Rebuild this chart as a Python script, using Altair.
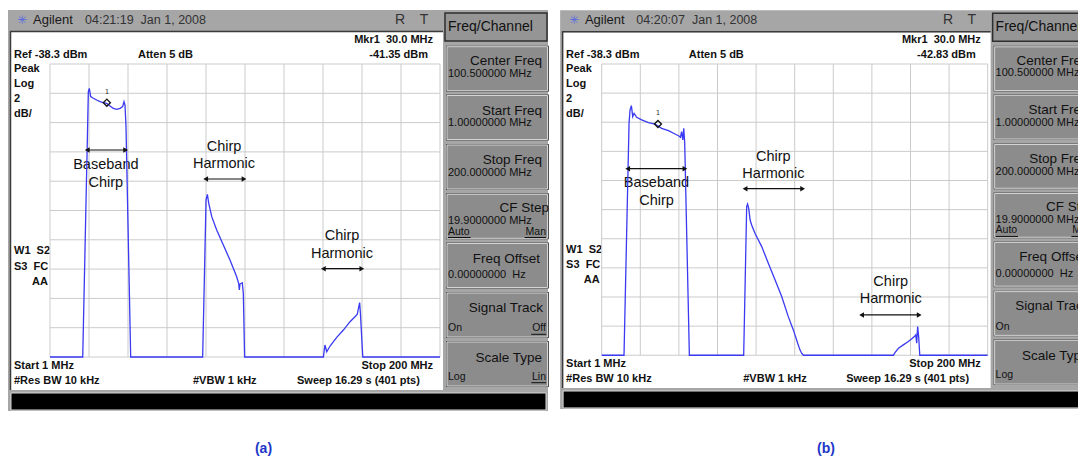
import altair as alt
import pandas as pd

FONT = "Liberation Sans"
BLUE = "#3a3af2"
W, H = 1070, 451

# ---------------- data ----------------
freq_grid = [1.0, 20.9, 40.8, 60.7, 80.6, 100.5, 120.4, 140.3, 160.2, 180.1, 200.0]
amp_grid = [-38.3, -40.3, -42.3, -44.3, -46.3, -48.3, -50.3, -52.3, -54.3, -56.3, -58.3]

trace_a_freq = [1.0, 17.7, 20.05, 20.56, 21.07, 21.75, 23.11, 24.81, 26.52, 28.22, 29.92, 31.62,
                33.32, 35.02, 36.72, 38.08, 38.76, 39.27, 39.78, 42.17,
                78.9, 80.63, 81.3, 82.0, 83.53, 86.05, 89.45, 92.85, 96.25, 97.27, 97.6, 97.95,
                99.1, 99.65, 100.3,
                140.5, 141.3, 142.2, 143.9, 147.3, 150.7, 154.1, 156.6, 157.8, 158.5, 159.0,
                159.4, 160.6, 200.0]
trace_a_dbm = [-58.3, -58.3, -43.49, -40.19, -39.96, -40.53, -40.64, -40.76, -40.87, -40.94, -40.98, -41.17,
               -41.33, -41.39, -41.33, -41.21, -40.87, -41.10, -42.58, -58.3,
               -58.3, -47.58, -47.2, -47.81, -48.72, -49.63, -50.66, -51.68, -52.82, -53.27, -53.73, -53.32,
               -53.23, -53.96, -58.3,
               -58.3, -57.48, -57.94, -57.55, -56.96, -56.46, -55.89, -55.55, -55.37, -54.91, -54.59,
               -55.33, -58.3, -58.3]

trace_b_freq = [1.0, 12.5, 15.1, 15.6, 16.3, 17.0, 17.7, 19.05, 21.6, 25.1, 28.5, 31.9, 35.4, 38.8,
                40.8, 41.6, 42.2, 42.8, 43.3, 43.8, 46.2,
                74.2, 75.75, 76.2, 76.8, 77.5, 78.3, 80.0, 83.5, 86.9, 90.4, 93.8, 97.2, 99.8,
                102.05, 103.2, 104.1, 105.0,
                151.4, 152.2, 154.0, 156.5, 159.1, 161.2, 162.2, 162.9, 163.4, 163.9, 164.4,
                165.0, 200.0]
trace_b_dbm = [-58.3, -58.3, -42.37, -41.46, -41.16, -41.92, -41.69, -41.96, -42.14, -42.33, -42.42,
               -42.72, -42.88, -43.11, -43.24, -43.33, -42.95, -43.52, -42.72, -43.75, -58.3,
               -58.3, -48.09, -47.91, -48.21, -49.0, -49.35, -49.92, -50.84, -51.98, -53.13, -54.27,
               -55.65, -56.56, -57.48, -57.93, -58.16, -58.3,
               -58.3, -58.12, -57.82, -57.59, -57.36, -57.13, -57.02, -56.9, -57.47, -56.33, -57.0,
               -58.3, -58.3]

marker_freq = 30.0
marker_a_dbm = -40.94
marker_b_dbm = -42.42

ann_labels = ["Baseband", "Chirp", "Chirp", "Harmonic", "Chirp", "Harmonic"]
ann_a_freq = [29.5, 29.5, 89.8, 89.8, 150.0, 150.0]
ann_a_dbm = [-45.19, -46.44, -43.99, -45.15, -50.04, -51.27]
ann_b_freq = [29.25, 29.25, 89.5, 89.5, 150.0, 150.0]
ann_b_dbm = [-46.49, -47.71, -44.66, -45.87, -53.27, -54.46]

arrow_a_start = [20.0, 80.45, 140.5]
arrow_a_end = [39.6, 100.0, 160.1]
arrow_a_dbm = [-44.17, -46.15, -52.27]
arrow_b_start = [14.4, 74.9, 135.0]
arrow_b_end = [43.9, 104.6, 164.7]
arrow_b_dbm = [-45.49, -46.86, -55.53]

timestamps = ["04:21:19\u00a0\u00a0Jan 1, 2008", "04:20:07\u00a0\u00a0Jan 1, 2008"]
marker_readouts = ["-41.35 dBm", "-42.83 dBm"]
panel_labels = ["(a)", "(b)"]
status_top = ["Mkr1\u00a0\u00a030.0 MHz", "Ref -38.3 dBm", "Atten 5 dB"]
status_left = ["Peak", "Log", "2", "dB/"]
status_mid = ["W1\u00a0\u00a0S2", "S3\u00a0\u00a0FC", "AA"]
status_bottom = ["Start 1 MHz", "Stop 200 MHz", "#Res BW 10 kHz", "#VBW 1 kHz", "Sweep 16.29 s (401 pts)"]
menu_title = "Freq/Channel"
softkey_titles = ["Center Freq", "Start Freq", "Stop Freq", "CF Step", "Freq Offset",
                  "Signal Track", "Scale Type"]
softkey_values = ["100.500000 MHz", "1.00000000 MHz", "200.000000 MHz", "19.9000000 MHz",
                  "0.00000000\u00a0\u00a0Hz"]
softkey_toggles = [("Auto", "Man"), ("On", "Off"), ("Log", "Lin")]

ONE = alt.Data(values=[{"k": 0}])


def build_panel(X, Y, ts, readout, tr_f, tr_d, mk_d, an_f, an_d, ar_s, ar_e, ar_d):
    L = []

    def rect(x1, y1, x2, y2, **kw):
        L.append(alt.Chart(ONE).mark_rect(**kw).encode(
            x=alt.value(X(x1)), x2=alt.value(X(x2)), y=alt.value(Y(y1)), y2=alt.value(Y(y2))))

    def hline(x1, x2, y, color, w=1.0):
        L.append(alt.Chart(ONE).mark_rule(color=color, strokeWidth=w).encode(
            x=alt.value(X(x1)), x2=alt.value(X(x2)), y=alt.value(Y(y))))

    def vline(x, y1, y2, color, w=1.0):
        L.append(alt.Chart(ONE).mark_rule(color=color, strokeWidth=w).encode(
            x=alt.value(X(x)), y=alt.value(Y(y1)), y2=alt.value(Y(y2))))

    def text(s, x, y, align="left", size=11, weight="bold", color="#111111", font=FONT):
        L.append(alt.Chart(ONE).mark_text(text=s, align=align, baseline="middle", fontSize=size,
                                          fontWeight=weight, color=color, font=font).encode(
            x=alt.value(X(x)), y=alt.value(Y(y))))

    # frame
    rect(8, 10, 548, 411, fill="#a6a6a6")
    rect(11, 32, 443, 390, fill="white")
    hline(10, 443, 31.5, "#3a3a3a", 1.5)
    vline(10.5, 31, 390, "#3a3a3a", 1.5)
    rect(11, 393, 546, 410, fill="black", stroke="#d8d8d8", strokeWidth=1)
    # title bar
    text("\u2733", 22, 20, align="center", size=12, weight="normal", color="#5a6ae0", font="DejaVu Sans")
    text("Agilent", 33, 20, size=13, weight="normal", color="#1a1a1a")
    text(ts, 85, 20, size=12.5, weight="normal", color="#333333")
    text("R", 400, 20, align="center", size=14, weight="normal", color="#333333")
    text("T", 424, 20, align="center", size=14, weight="normal", color="#333333")
    # soft keys
    rect(445, 13, 547, 41, fill="#959595", stroke="#2e2e2e", strokeWidth=1.5)
    text(menu_title, 448, 27, size=14, weight="normal")
    tops = [46.7, 95.5, 145, 194.3, 243.5, 293, 342]
    title_y = [60.5, 110.5, 159.5, 208, 258.5, 307.5, 357.5]
    title_x = [542, 542, 542, 549, 540, 543, 542]
    for t in tops:
        rect(446, t - 1, 549, t + 45, fill="#505050")
        rect(447, t, 547.5, t + 44, fill="#8c8c8c", stroke="#d4d4d4", strokeWidth=1)
    for s, tx, ty in zip(softkey_titles, title_x, title_y):
        text(s, tx, ty, align="right", size=13.5, weight="normal")
    for s, vy in zip(softkey_values, [73.5, 123, 172.5, 221, 275]):
        text(s, 448, vy, size=11, weight="normal")
    tog_y = [231.5, 328.3, 376.7]
    tog_w = [(22.6, 21.4), (13.5, 14.8), (17.5, 14.6)]
    for (lft, rgt), ty, (wl, wr) in zip(softkey_toggles, tog_y, tog_w):
        text(lft, 448, ty, size=10.5, weight="normal")
        text(rgt, 546, ty, align="right", size=10.5, weight="normal")
        hline(546 - wr, 546, ty + 6, "#111111", 1)
        if lft == "Auto":
            hline(448, 448 + wl, ty + 6, "#111111", 1)
    # status texts
    text(status_top[0], 433, 40, align="right")
    text(status_top[1], 14, 54.5)
    text(status_top[2], 138, 54.5)
    text(readout, 428, 54.5, align="right")
    for s, yy in zip(status_left, [69, 84, 99, 114]):
        text(s, 14, yy)
    text(status_mid[0], 14, 251)
    text(status_mid[1], 14, 266.7)
    text(status_mid[2], 48, 281.7, align="right")
    text(status_bottom[0], 14, 366)
    text(status_bottom[1], 433, 366, align="right")
    text(status_bottom[2], 14, 381)
    text(status_bottom[3], 193, 381)
    text(status_bottom[4], 297, 381)

    # ---- data layers through scales ----
    sx = alt.Scale(domain=[1, 200], range=[X(50), X(440)], nice=False, zero=False)
    sy = alt.Scale(domain=[-58.3, -38.3], range=[Y(357), Y(64)], nice=False, zero=False)
    gx = pd.DataFrame({"f": freq_grid})
    gy = pd.DataFrame({"d": amp_grid})
    L.append(alt.Chart(gx).mark_rule(color="#cbcbcb", strokeWidth=1).encode(
        x=alt.X("f:Q", scale=sx, axis=None), y=alt.value(Y(64)), y2=alt.value(Y(357))))
    L.append(alt.Chart(gy).mark_rule(color="#cbcbcb", strokeWidth=1).encode(
        y=alt.Y("d:Q", scale=sy, axis=None), x=alt.value(X(50)), x2=alt.value(X(440))))

    ann = pd.DataFrame({"f": an_f, "d": an_d, "label": ann_labels})
    L.append(alt.Chart(ann).mark_text(font=FONT, fontSize=14.5, color="#111111",
                                      align="center", baseline="middle").encode(
        x=alt.X("f:Q", scale=sx, axis=None), y=alt.Y("d:Q", scale=sy, axis=None), text="label:N"))

    tr = pd.DataFrame({"f": tr_f, "d": tr_d, "i": list(range(len(tr_f)))})
    L.append(alt.Chart(tr).mark_line(color=BLUE, strokeWidth=1.3).encode(
        x=alt.X("f:Q", scale=sx, axis=None), y=alt.Y("d:Q", scale=sy, axis=None), order="i:Q"))

    mk = pd.DataFrame({"f": [marker_freq], "d": [mk_d], "t": ["1"]})
    L.append(alt.Chart(mk).mark_point(shape="diamond", filled=False, color="#111111",
                                      size=50, strokeWidth=1.3, opacity=1).encode(
        x=alt.X("f:Q", scale=sx, axis=None), y=alt.Y("d:Q", scale=sy, axis=None)))
    L.append(alt.Chart(mk).mark_text(fontSize=7, dy=-11, color="#333333", font="DejaVu Sans Mono").encode(
        x=alt.X("f:Q", scale=sx, axis=None), y=alt.Y("d:Q", scale=sy, axis=None), text="t:N"))

    ar = pd.DataFrame({"s": ar_s, "e": ar_e, "d": ar_d})
    L.append(alt.Chart(ar).mark_rule(color="#111111", strokeWidth=1.2).encode(
        x=alt.X("s:Q", scale=sx, axis=None), x2="e:Q", y=alt.Y("d:Q", scale=sy, axis=None)))
    L.append(alt.Chart(ar).mark_point(shape="triangle-left", filled=True, color="#111111",
                                      size=30, opacity=1).encode(
        x=alt.X("s:Q", scale=sx, axis=None), y=alt.Y("d:Q", scale=sy, axis=None)))
    L.append(alt.Chart(ar).mark_point(shape="triangle-right", filled=True, color="#111111",
                                      size=30, opacity=1).encode(
        x=alt.X("e:Q", scale=sx, axis=None), y=alt.Y("d:Q", scale=sy, axis=None)))
    return L


def Xa(x):
    return x - 8


def Ya(y):
    return y - 8


def Xb(x):
    return 601.7 + (x - 50) * 0.9897 - 8


def Yb(y):
    return 64 + (y - 64) * 0.994 - 8


layers = []
layers += build_panel(Xa, Ya, timestamps[0], marker_readouts[0], trace_a_freq, trace_a_dbm,
                      marker_a_dbm, ann_a_freq, ann_a_dbm, arrow_a_start, arrow_a_end, arrow_a_dbm)
layers += build_panel(Xb, Yb, timestamps[1], marker_readouts[1], trace_b_freq, trace_b_dbm,
                      marker_b_dbm, ann_b_freq, ann_b_dbm, arrow_b_start, arrow_b_end, arrow_b_dbm)

for lab, cx in zip(panel_labels, [263.5, 826]):
    layers.append(alt.Chart(ONE).mark_text(text=lab, font=FONT, fontSize=14, fontWeight="bold",
                                           color="#2036c8", align="center", baseline="middle").encode(
        x=alt.value(cx - 8), y=alt.value(449 - 8)))

chart = alt.layer(*layers).properties(
    width=W, height=H, autosize=alt.AutoSizeParams(type="none"), padding=0
).resolve_scale(x="independent", y="independent").configure_view(stroke=None)

chart.save("out.html", embed_options={"renderer": "svg", "actions": False})
